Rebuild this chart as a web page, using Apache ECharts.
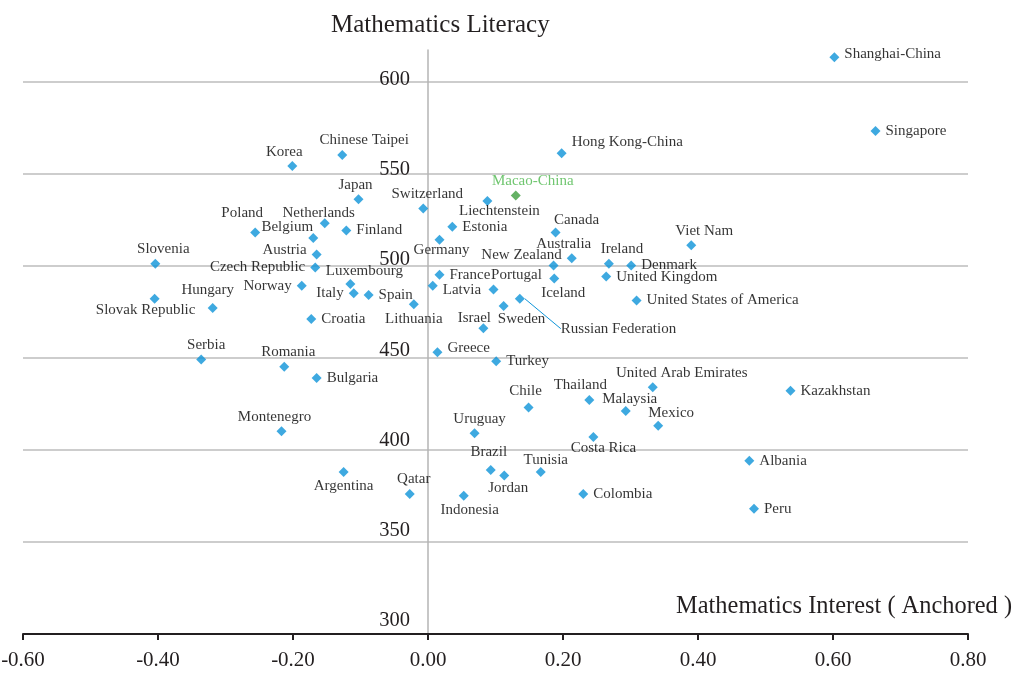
<!DOCTYPE html>
<html>
<head>
<meta charset="utf-8">
<script src="https://cdn.jsdelivr.net/npm/echarts@6/dist/echarts.min.js"></script>
<style>
  html, body { margin: 0; padding: 0; background: #fff; }
  #chart { width: 1014px; height: 675px; }
</style>
</head>
<body>
<div id="chart"></div>
<script>
  // data
  let countries = ['Shanghai-China', 'Singapore', 'Hong Kong-China', 'Chinese Taipei', 'Korea', 'Macao-China',
    'Japan', 'Liechtenstein', 'Switzerland', 'Netherlands', 'Estonia', 'Finland', 'Canada', 'Poland', 'Belgium',
    'Germany', 'Viet Nam', 'Austria', 'Australia', 'Ireland', 'Slovenia', 'Denmark', 'New Zealand',
    'Czech Republic', 'France', 'United Kingdom', 'Iceland', 'Latvia', 'Luxembourg', 'Norway', 'Portugal',
    'Italy', 'Spain', 'Russian Federation', 'Slovak Republic', 'United States of America', 'Lithuania',
    'Sweden', 'Hungary', 'Croatia', 'Israel', 'Greece', 'Serbia', 'Turkey', 'Romania', 'Bulgaria',
    'United Arab Emirates', 'Kazakhstan', 'Thailand', 'Chile', 'Malaysia', 'Mexico', 'Montenegro', 'Uruguay',
    'Costa Rica', 'Albania', 'Brazil', 'Argentina', 'Tunisia', 'Jordan', 'Colombia', 'Qatar', 'Indonesia', 'Peru']
  let interest = [0.602, 0.663, 0.198, -0.127, -0.201, 0.130,
    -0.103, 0.088, -0.007, -0.153, 0.036, -0.121, 0.189, -0.256, -0.170,
    0.017, 0.390, -0.165, 0.213, 0.268, -0.404, 0.301, 0.186,
    -0.167, 0.017, 0.264, 0.187, 0.007, -0.115, -0.187, 0.097,
    -0.110, -0.088, 0.136, -0.405, 0.309, -0.021,
    0.112, -0.319, -0.173, 0.082, 0.014, -0.336, 0.101, -0.213, -0.165,
    0.333, 0.537, 0.239, 0.149, 0.293, 0.341, -0.217, 0.069,
    0.245, 0.476, 0.093, -0.125, 0.167, 0.113, 0.230, -0.027, 0.053, 0.483]
  let literacy = [613, 573, 561, 560, 554, 538,
    536, 535, 531, 523, 521, 519, 518, 518, 515,
    514, 511, 506, 504, 501, 501, 500, 500,
    499, 495, 494, 493, 489, 490, 489, 487,
    485, 484, 482, 482, 481, 479,
    478, 477, 471, 466, 453, 449, 448, 445, 439,
    434, 432, 427, 423, 421, 413, 410, 409,
    407, 394, 389, 388, 388, 386, 376, 376, 375, 368]
  let xTicks = [-0.6, -0.4, -0.2, 0, 0.2, 0.4, 0.6, 0.8]
  let yTicks = [300, 350, 400, 450, 500, 550, 600]

  // where each name sits next to its marker: [position, dx, dy]
  let placement = {
    'Shanghai-China': ['right', 0, -3], 'Hong Kong-China': ['right', 0, -11],
    'Chinese Taipei': ['top', 22, 0], 'Korea': ['top', -8, 0], 'Macao-China': ['top', 17, 0],
    'Japan': ['top', -3, 0], 'Liechtenstein': ['bottom', 12, -5], 'Switzerland': ['top', 4, 0],
    'Netherlands': ['top', -6, 4], 'Canada': ['top', 21, 2], 'Poland': ['top', -13, -5],
    'Belgium': ['top', -26, 4], 'Germany': ['bottom', 2, -4], 'Viet Nam': ['top', 13, 0],
    'Austria': ['left', 0, -4], 'Australia': ['top', -8, 0], 'Ireland': ['top', 13, 0],
    'Slovenia': ['top', 8, 0], 'New Zealand': ['top', -32, 4], 'Czech Republic': ['left', 0, 0],
    'Iceland': ['bottom', 9, 0], 'Latvia': ['right', 0, 4], 'Luxembourg': ['top', 14, 2],
    'Norway': ['left', 0, 0], 'Portugal': ['top', 23, 0], 'Italy': ['left', 0, 0],
    'Russian Federation': ['right', 31, 30],
    'Slovak Republic': ['bottom', -9, -3], 'Lithuania': ['bottom', 0, 0], 'Sweden': ['bottom', 18, -2],
    'Hungary': ['top', -5, -3], 'Israel': ['top', -9, 4], 'Greece': ['right', 0, -4],
    'Serbia': ['top', 5, 0], 'Romania': ['top', 4, 0], 'United Arab Emirates': ['top', 29, 0],
    'Thailand': ['top', -9, 0], 'Chile': ['top', -3, -2], 'Malaysia': ['top', 4, 2],
    'Mexico': ['top', 13, 2], 'Montenegro': ['top', -7, 0], 'Uruguay': ['top', 5, 0],
    'Costa Rica': ['bottom', 10, -3], 'Brazil': ['top', -2, -3], 'Argentina': ['bottom', 0, 0],
    'Tunisia': ['top', 5, 3], 'Jordan': ['bottom', 4, -2], 'Qatar': ['top', 4, 0],
    'Indonesia': ['bottom', 6, 0]
  }

  let font = 'Liberation Serif, Times New Roman, serif'
  let ink = '#000000'
  let blue = '#0e94d8'

  let points = countries.map(function (name, i) {
    let p = placement[name] || ['right', 0, 0]
    let item = {
      name: name,
      value: [interest[i], literacy[i]],
      label: {
        position: p[0],
        distance: (p[0] === 'top' || p[0] === 'bottom') ? 2 : 5
      }
    }
    if (name === 'Macao-China') {
      item.itemStyle = { color: '#3d9e3d' }
      item.label.color = '#4cb84c'
    }
    if (name === 'Russian Federation') {
      item.labelLine = { show: true }
    }
    return item
  })

  let myChart = echarts.init(document.getElementById('chart'))
  let option = {
    animation: false,
    title: [{
      text: 'Mathematics Literacy',
      left: 326,
      top: 8,
      textStyle: { fontFamily: font, fontSize: 25, fontWeight: 'normal', color: '#231f20' }
    }, {
      text: 'Mathematics Interest ( Anchored )',
      right: -3,
      top: 590,
      textStyle: { fontFamily: font, fontSize: 24.4, fontWeight: 'normal', color: '#231f20' }
    }],
    grid: [{
      left: 23, right: 46, top: 50, bottom: 41, outerBoundsMode: 'none'
    }, {
      // only carries the y tick labels
      left: 428, width: 1, top: 79.5, bottom: 54, outerBoundsMode: 'none'
    }],
    xAxis: [{
      type: 'value',
      gridIndex: 0,
      min: xTicks[0],
      max: xTicks[xTicks.length - 1],
      interval: 0.2,
      axisLine: { onZero: false, lineStyle: { color: '#231f20', width: 2 } },
      axisTick: { show: true, length: 6, lineStyle: { color: '#231f20', width: 2 } },
      axisLabel: {
        margin: 16,
        fontFamily: font, fontSize: 21, color: '#231f20',
        formatter: function (v) { return (Math.abs(v) < 1e-9 ? 0 : v).toFixed(2) }
      },
      splitLine: { show: false }
    }, {
      type: 'value',
      gridIndex: 1,
      show: false,
      min: xTicks[0],
      max: xTicks[xTicks.length - 1]
    }],
    yAxis: [{
      type: 'value',
      gridIndex: 0,
      min: yTicks[0],
      max: 617,
      interval: 50,
      axisLine: { show: true, onZero: true, lineStyle: { color: '#b5b5b5', width: 1.5 } },
      axisTick: { show: false },
      axisLabel: { show: false },
      splitLine: { show: true, showMinLine: false, showMaxLine: false, lineStyle: { color: '#bdbdbd', width: 1.5 } }
    }, {
      type: 'value',
      gridIndex: 1,
      min: yTicks[0],
      max: yTicks[yTicks.length - 1],
      interval: 50,
      axisLine: { show: false },
      axisTick: { show: false },
      splitLine: { show: false },
      axisLabel: { margin: 18, fontFamily: font, fontSize: 20.5, color: '#231f20' }
    }],
    series: [{
      type: 'scatter',
      xAxisIndex: 0,
      yAxisIndex: 0,
      symbol: 'diamond',
      symbolSize: 10,
      itemStyle: { color: blue },
      label: { show: true, formatter: '{b}', fontFamily: font, fontSize: 15, color: ink },
      labelLine: { show: false, lineStyle: { color: blue, width: 1 } },
      labelLayout: function (params) {
        let p = placement[countries[params.dataIndex]]
        if (p) return { dx: p[1], dy: p[2] }
      },
      emphasis: { disabled: true },
      data: points
    }]
  }
  myChart.setOption(option)
</script>
</body>
</html>
